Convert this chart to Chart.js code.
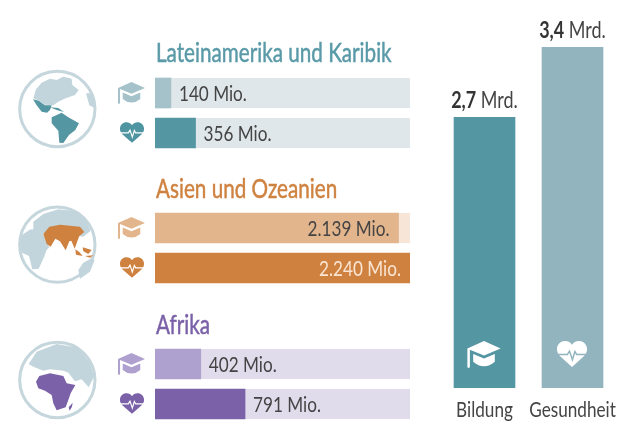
<!DOCTYPE html>
<html><head><meta charset="utf-8">
<script src="https://cdn.jsdelivr.net/npm/chart.js@4"></script>
<style>
html,body{margin:0;padding:0;background:#fff;width:638px;height:421px;overflow:hidden}
canvas{position:absolute}
svg{position:absolute;overflow:visible}
</style></head><body>
<canvas id="r1" width="255" height="114" style="left:155px;top:39px;width:255px;height:114px"></canvas>
<canvas id="r2" width="255" height="114" style="left:155px;top:174px;width:255px;height:114px"></canvas>
<canvas id="r3" width="255" height="114" style="left:155px;top:310px;width:255px;height:114px"></canvas>
<canvas id="tot" width="208" height="421" style="left:430px;top:0;width:208px;height:421px"></canvas>

<svg width="638" height="421" style="left:0;top:0" viewBox="0 0 638 421">
<defs>
<symbol id="cap" viewBox="0 0 80 65">
<path d="M40 0L80 18L40 35L6 21V63L3 65L0 63V18Z" fill="currentColor"/>
<path d="M14 31L40 42L66 31V50Q40 72 14 50Z" fill="currentColor"/>
</symbol>
<symbol id="heart" viewBox="0 0 72 62">
<path d="M36 62L7 36C-8 20 3 0 19 0C27 0 33 4 36 9C39 4 45 0 53 0C69 0 80 20 65 36Z" fill="currentColor"/>
<path d="M0 32H25L30 24L37 45L43 25L47 32H72" fill="none" stroke-width="3.5" style="stroke:var(--ecg,#fff)"/>
</symbol>
</defs>
<!-- Globe 1 -->
<g transform="translate(0,30) scale(.3333)">
<circle cx="172" cy="237" r="113" fill="#fff" stroke="#c5d6dc" stroke-width="9"/>
<path d="M100 205L108 178L125 158L150 146L170 150L190 140L215 146L217 165L236 180L225 195L197 205L175 215L160 226L135 224L118 213Z" fill="#c3d5dc"/>
<path d="M258 190L272 190L282 205L286 235L268 226Z" fill="#c3d5dc"/>
<path d="M99 208L116 212L135 226L155 226L150 240L141 248L125 245L110 226Z" fill="#5596a3"/>
<path d="M150 232L175 234L192 246L170 240Z" fill="#5596a3"/>
<path d="M155 262L185 248L205 262L237 280L226 300L207 315L190 339L178 338L175 302L155 280Z" fill="#5596a3"/>
</g>
<!-- Globe 2 -->
<g transform="translate(0,170) scale(.3333)">
<circle cx="172" cy="224" r="113" fill="#fff" stroke="#c5d6dc" stroke-width="9"/>
<path d="M100 155L130 132L175 118L230 124L258 150L272 182L250 200L180 190L140 195L112 182L100 180Z" fill="#c3d5dc"/>
<path d="M58 222L66 195L92 178L125 182L135 205L148 232L140 240L132 262L116 296L97 298L87 258L66 248Z" fill="#c3d5dc"/>
<path d="M235 300L250 278L275 265L284 270L270 305L240 326Z" fill="#c3d5dc"/>
<path d="M130 192L148 170L180 164L240 170L253 186L238 198L232 214L224 236L214 212L208 214L197 241L180 214L166 206L152 230L140 222Z" fill="#cf8240"/>
<path d="M226 238L238 246L248 258L228 254Z M248 232L275 240L265 252L250 244Z M255 258L280 256L270 263Z" fill="#cf8240"/>
</g>
<!-- Globe 3 -->
<g transform="translate(0,300) scale(.3333)">
<circle cx="172" cy="240" r="113" fill="#fff" stroke="#c5d6dc" stroke-width="9"/>
<path d="M86 192L110 155L170 132L232 143L270 188L282 230L266 262L245 238L225 244L205 218L190 212L150 208L130 212L100 200Z" fill="#c3d5dc"/>
<path d="M108 245L118 228L150 220L190 228L200 250L226 255L212 280L205 300L197 322L170 331L160 310L155 285L135 272L115 265Z" fill="#7a61a8"/>
<path d="M206 322L218 308L216 320L209 332Z" fill="#7a61a8"/>
</g>
<use href="#cap" x="118" y="82" width="27" height="22" style="color:#a5c2ca"/>
<use href="#heart" x="120" y="122" width="24" height="21" style="color:#4f94a1"/>
<use href="#cap" x="118" y="217" width="27" height="22" style="color:#e3b58c"/>
<use href="#heart" x="120" y="257" width="24" height="21" style="color:#cf8240"/>
<use href="#cap" x="118" y="353" width="27" height="22" style="color:#aea0cf"/>
<use href="#heart" x="120" y="393" width="24" height="21" style="color:#7a61a8"/>
<use href="#cap" x="467" y="341" width="34" height="27" style="color:#fff"/>
<use href="#heart" x="557" y="341" width="30" height="26" style="color:#fff;--ecg:#92b4be"/>
</svg>

<script>
const FONT = 'Lato, "Open Sans", sans-serif';
const SX = 0.78;
const regions = ['Lateinamerika und Karibik', 'Asien und Ozeanien', 'Afrika'];
const rowLabels = ['Bildung', 'Gesundheit'];
const latam = [140, 356];
const asia = [2139, 2240];
const africa = [402, 791];
const totals = [2.7, 3.4];
const axisMax = 2240;

const tracks = { r1: '#e0e7ea', r2: '#f7e6d8', r3: '#e0dcec' };

// condensed text: horizontally squeezed
function narrowText(ctx, txt, x, y, align, font, color, stroke) {
  ctx.save();
  ctx.font = font;
  ctx.fillStyle = color;
  ctx.textBaseline = 'alphabetic';
  ctx.textAlign = 'left';
  const w = ctx.measureText(txt).width * SX;
  const left = align === 'right' ? x - w : align === 'center' ? x - w / 2 : x;
  ctx.translate(left, y);
  ctx.scale(SX, 1);
  ctx.fillText(txt, 0, 0);
  if (stroke) {
    ctx.strokeStyle = color;
    ctx.lineWidth = stroke;
    ctx.strokeText(txt, 0, 0);
  }
  ctx.restore();
  return w;
}

const barLabels = {
  id: 'barLabels',
  beforeDatasetsDraw(c) {
    const o = c.options.plugins.barLabels, ctx = c.ctx, a = c.chartArea;
    ctx.save();
    ctx.fillStyle = o.track;
    c.getDatasetMeta(0).data.forEach(b => {
      ctx.fillRect(a.left, b.y - b.height / 2, a.right - a.left, b.height);
    });
    ctx.restore();
  },
  afterDatasetsDraw(c) {
    const ctx = c.ctx, ds = c.data.datasets[0], o = c.options.plugins.barLabels;
    narrowText(ctx, o.title, 1, o.titleY, 'left', '26.5px ' + FONT, o.titleColor, 0.5);
    c.getDatasetMeta(0).data.forEach((b, i) => {
      const v = ds.data[i], inside = v > 1000;
      const txt = v.toLocaleString('de-DE') + ' Mio.';
      narrowText(ctx, txt, inside ? b.x - 9 : b.x + 8, b.y + 8, inside ? 'right' : 'left', '22px ' + FONT, inside ? o.textColors[i] : '#444');
    });
  }
};

function regionChart(id, title, values, colors, titleColor, text, titleY) {
  new Chart(document.getElementById(id), {
    type: 'bar',
    plugins: [barLabels],
    data: { labels: rowLabels, datasets: [{ data: values, backgroundColor: colors, barThickness: 30 }] },
    options: {
      indexAxis: 'y', responsive: false, animation: false,
      layout: { padding: { top: 34 } },
      scales: {
        x: { display: false, min: 0, max: axisMax },
        y: { display: false }
      },
      plugins: {
        legend: { display: false }, tooltip: { enabled: false }, title: { display: false },
        barLabels: { track: tracks[id], textColors: text, title, titleColor, titleY }
      }
    }
  });
}
regionChart('r1', regions[0], latam, ['#a5c2ca', '#5596a3'], '#5a9aa8', ['#444', '#444'], 23);
regionChart('r2', regions[1], asia, ['#e3b58c', '#cf8240'], '#cf8240', ['#444', '#fae5d3'], 24);
regionChart('r3', regions[2], africa, ['#aea0cf', '#7a61a8'], '#7a61a8', ['#444', '#444'], 24);

const topLabels = {
  id: 'topLabels',
  afterDatasetsDraw(c) {
    const ctx = c.ctx;
    c.getDatasetMeta(0).data.forEach((b, i) => {
      const num = totals[i].toString().replace('.', ','), rest = ' Mrd.';
      ctx.font = 'bold 23px ' + FONT;
      const w1 = ctx.measureText(num).width * SX;
      ctx.font = '23px ' + FONT;
      const w2 = ctx.measureText(rest).width * SX;
      const x = b.x - (w1 + w2) / 2;
      narrowText(ctx, num, x, b.y - 9, 'left', 'bold 23px ' + FONT, '#333');
      narrowText(ctx, rest, x + w1, b.y - 9, 'left', '23px ' + FONT, '#444');
    });
    const xs = c.scales.x;
    c.data.labels.forEach((l, i) => {
      narrowText(ctx, l, xs.getPixelForTick(i), 417, 'center', '22px ' + FONT, '#444');
    });
  }
};

new Chart(document.getElementById('tot'), {
  type: 'bar',
  plugins: [topLabels],
  data: { labels: rowLabels, datasets: [{ data: totals, backgroundColor: ['#5596a3', '#92b4be'], barThickness: 61 }] },
  options: {
    responsive: false, animation: false,
    layout: { padding: { left: 10.5, right: 21.5, top: 47, bottom: 33 } },
    scales: {
      x: {
        grid: { display: false, drawTicks: false }, border: { display: false },
        ticks: { display: false }
      },
      y: { display: false, min: 0, max: 3.4 }
    },
    plugins: { legend: { display: false }, tooltip: { enabled: false } }
  }
});
</script>
</body></html>
